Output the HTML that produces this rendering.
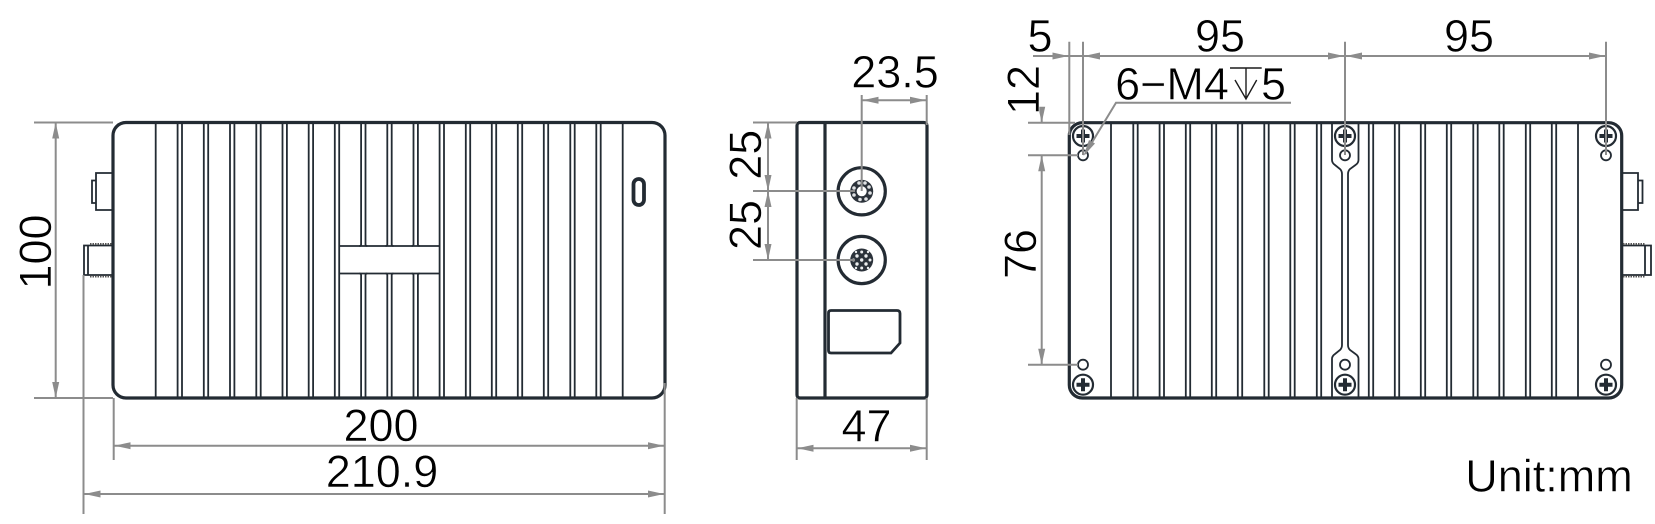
<!DOCTYPE html>
<html><head><meta charset="utf-8"><style>
html,body{margin:0;padding:0;background:#fff}
svg{display:block}
text{font-family:"Liberation Sans",sans-serif;font-size:45px;fill:#000;stroke:#fff;stroke-width:.55;text-anchor:middle}
.g{stroke:#8c8c8c;stroke-width:2;fill:none}
.a{fill:#8c8c8c;stroke:none}
.o{stroke:#232b33;stroke-width:3.2;fill:none}
.t{stroke:#232b33;stroke-width:1.8;fill:none}
.d{fill:#232b33;stroke:none}
</style></head><body>
<svg width="1655" height="524" viewBox="0 0 1655 524" xmlns="http://www.w3.org/2000/svg">
<defs>
<path id="r" d="M-2.2 122V398M2.2 122V398" class="t"/>
<path id="rs" d="M-2.2 122V244.5Q-2.2 246 -4 246M2.2 122V244.5Q2.2 246 4 246M-2.2 398V275Q-2.2 273.5 -4 273.5M2.2 398V275Q2.2 273.5 4 273.5" class="t"/>
<g id="s"><circle r="10" class="t" style="stroke-width:2.2"/><path class="d" d="M-2 -6.5H2V-2H6.5V2H2V6.5H-2V2H-6.5V-2H-2Z"/></g>
<g id="h"><circle r="5" class="t" style="stroke-width:1.8"/></g>
<polygon id="ar" class="a" points="-16,-3.5 0,0 -16,3.5"/>
<polygon id="al" class="a" points="16,-3.5 0,0 16,3.5"/>
<polygon id="au" class="a" points="-3.5,16 0,0 3.5,16"/>
<polygon id="ad" class="a" points="-3.5,-16 0,0 3.5,-16"/>
</defs>

<!-- LEFT VIEW -->
<rect x="113" y="122.5" width="552" height="275.5" rx="13" class="o"/>
<path class="t" d="M155.7 122V398M622.7 122V398"/>
<use href="#r" x="179.8"/><use href="#r" x="206"/><use href="#r" x="232.2"/><use href="#r" x="258.5"/><use href="#r" x="284.7"/><use href="#r" x="310.9"/><use href="#r" x="337"/>
<use href="#rs" x="363.3"/><use href="#rs" x="389.5"/><use href="#rs" x="415.7"/>
<use href="#r" x="441.8"/><use href="#r" x="468"/><use href="#r" x="494"/><use href="#r" x="520"/><use href="#r" x="546"/><use href="#r" x="572.5"/><use href="#r" x="598.5"/>
<path class="t" d="M339.2 246H439.6M339.2 273.5H439.6"/>
<rect x="633.5" y="179" width="10.5" height="26" rx="5.2" class="o" style="stroke-width:3.8"/>
<path class="t" d="M113 173H96V210H113M96 180.5H92V203H96"/>
<path class="t" d="M112 245.5H88V275H112M88 245.5H84V275H88"/>
<path d="M90 244H112M90 276.5H112" stroke="#555" stroke-width="2" stroke-dasharray="1.5 1" fill="none"/>

<path class="g" d="M34 122.5H113M34 398H113M55.7 122.5V398"/>
<use href="#au" x="55.7" y="122.5"/><use href="#ad" x="55.7" y="398"/>
<text transform="translate(51,252) rotate(-90)">100</text>
<path class="g" d="M113.7 398V460M664.7 383V514M83.5 275V514M113.7 445.7H664.7M83.5 494H664.7"/>
<use href="#al" x="114.5" y="445.7"/><use href="#ar" x="664" y="445.7"/>
<use href="#al" x="84.5" y="494"/><use href="#ar" x="664" y="494"/>
<text x="381" y="441">200</text>
<text x="382" y="487">210.9</text>

<!-- MIDDLE VIEW -->
<rect x="797" y="122.5" width="130" height="275.5" rx="3" class="o"/>
<path class="o" d="M825 122.5V398"/>
<circle cx="861.7" cy="191.3" r="23.6" class="o"/>
<circle cx="861.7" cy="260" r="23.6" class="o"/>
<circle cx="861.7" cy="191.3" r="11.5" fill="#2b323a"/>
<circle cx="861.7" cy="191.3" r="5" fill="#fff"/>
<g fill="#dfe1e3"><circle cx="869" cy="187" r="1.8"/><circle cx="870" cy="193" r="1.8"/><circle cx="866" cy="199" r="1.8"/><circle cx="860" cy="199.5" r="1.8"/><circle cx="854" cy="195" r="1.8"/><circle cx="854" cy="188" r="1.8"/><circle cx="859" cy="183" r="1.8"/><circle cx="865" cy="183" r="1.8"/></g>
<circle cx="861.7" cy="260" r="11.5" fill="#2b323a"/>
<g fill="#eceeef"><circle cx="861.7" cy="260" r="1.7"/><circle cx="866" cy="256" r="1.7"/><circle cx="857" cy="256" r="1.7"/><circle cx="866" cy="264" r="1.7"/><circle cx="857" cy="264" r="1.7"/><circle cx="861.7" cy="252" r="1.5"/><circle cx="861.7" cy="268" r="1.5"/><circle cx="870" cy="260" r="1.5"/><circle cx="853.5" cy="260" r="1.5"/><circle cx="856" cy="268" r="1.2"/><circle cx="868" cy="268" r="1.2"/><circle cx="856" cy="252" r="1.2"/><circle cx="868" cy="252" r="1.2"/></g>
<path class="o" d="M831 310.5H897Q900 310.5 900 313.5V343L891 353H831Q828.5 353 828.5 350.5V313Q828.5 310.5 831 310.5Z" style="stroke-width:2.8"/>

<path class="g" d="M753 122.5H797M753 191H855M753 260H855M768 122.5V260"/>
<use href="#au" x="768" y="122.5"/><use href="#ad" x="768" y="191"/><use href="#au" x="768" y="191"/><use href="#ad" x="768" y="260"/>
<text transform="translate(761,154.7) rotate(-90)">25</text>
<text transform="translate(761,225) rotate(-90)">25</text>
<path class="g" d="M861.7 95V191M926.7 95V125M861.7 100.3H926.7"/>
<use href="#al" x="862.5" y="100.3"/><use href="#ar" x="926" y="100.3"/>
<text x="895" y="87.5">23.5</text>
<path class="g" d="M796.7 398V460M926.7 398V460M796.7 448.3H926.7"/>
<use href="#al" x="797.5" y="448.3"/><use href="#ar" x="926" y="448.3"/>
<text x="866.5" y="441.7">47</text>

<!-- RIGHT VIEW -->
<rect x="1069.3" y="122.7" width="552.4" height="275.3" rx="13" class="o"/>
<path class="t" d="M1111 122V398M1578 122V398"/>
<use href="#r" x="1135.5"/><use href="#r" x="1161.8"/><use href="#r" x="1188"/><use href="#r" x="1214"/><use href="#r" x="1240"/><use href="#r" x="1266.5"/><use href="#r" x="1292.5"/><use href="#r" x="1319"/>
<use href="#r" x="1371"/><use href="#r" x="1397"/><use href="#r" x="1423"/><use href="#r" x="1449"/><use href="#r" x="1475.5"/><use href="#r" x="1501.5"/><use href="#r" x="1528"/><use href="#r" x="1554"/>
<path class="t" d="M1332 122V160Q1332 163 1335 165L1340 169Q1342 171 1342 174V345Q1342 348 1340 350L1335 354Q1332 356 1332 359V398M1358.5 122V160Q1358.5 163 1355.5 165L1350 169Q1348 171 1348 174V345Q1348 348 1350 350L1355.5 354Q1358.5 356 1358.5 359V398"/>
<use href="#s" x="1083" y="136"/><use href="#s" x="1345" y="136"/><use href="#s" x="1606" y="136"/>
<use href="#s" x="1083" y="384.7"/><use href="#s" x="1345" y="384.7"/><use href="#s" x="1606" y="384.7"/>
<use href="#h" x="1083" y="155.3"/><use href="#h" x="1345" y="155.3"/><use href="#h" x="1606" y="155.3"/>
<use href="#h" x="1083" y="364.7"/><use href="#h" x="1345" y="364.7"/><use href="#h" x="1606" y="364.7"/>
<path class="t" d="M1622 173H1638V210H1622M1638 180.5H1642.5V203H1638"/>
<path class="t" d="M1623 245.5H1645V275H1623M1645 245.5H1651V275H1645"/>
<path d="M1623 244H1645M1623 276.5H1645" stroke="#555" stroke-width="2" stroke-dasharray="1.5 1" fill="none"/>

<path class="g" d="M1033 56H1606M1069.3 41.7V135M1083 41.7V155M1345 41.7V155M1606 41.7V155"/>
<use href="#ar" x="1068.5" y="56"/><use href="#al" x="1084" y="56"/><use href="#ar" x="1344" y="56"/><use href="#al" x="1346" y="56"/><use href="#ar" x="1605" y="56"/>
<text x="1040" y="51.7">5</text>
<text x="1220" y="51.7">95</text>
<text x="1469" y="51.7">95</text>
<path class="g" d="M1028 122.7H1075M1028 155.3H1078M1028 364.7H1078M1041.7 107V122.7M1041.7 155.3V364.7"/>
<use href="#ad" x="1041.7" y="122.7"/><use href="#au" x="1041.7" y="155.3"/><use href="#ad" x="1041.7" y="364.7"/>
<text transform="translate(1039,90) rotate(-90)">12</text>
<text transform="translate(1036,254) rotate(-90)">76</text>
<path class="g" d="M1291 102.7H1116L1085 154"/>
<polygon class="a" points="1083.5,156 1089,140 1095,143.5"/>
<text x="1172" y="99.3">6−M4</text>
<path d="M1230 68H1261.7M1246 68V99M1235 80L1246 99L1256.7 80" stroke="#1c1c1c" stroke-width="1.4" fill="none"/>
<text x="1273.5" y="99.3">5</text>
<text x="1549" y="491.7">Unit:mm</text>
</svg>
</body></html>
